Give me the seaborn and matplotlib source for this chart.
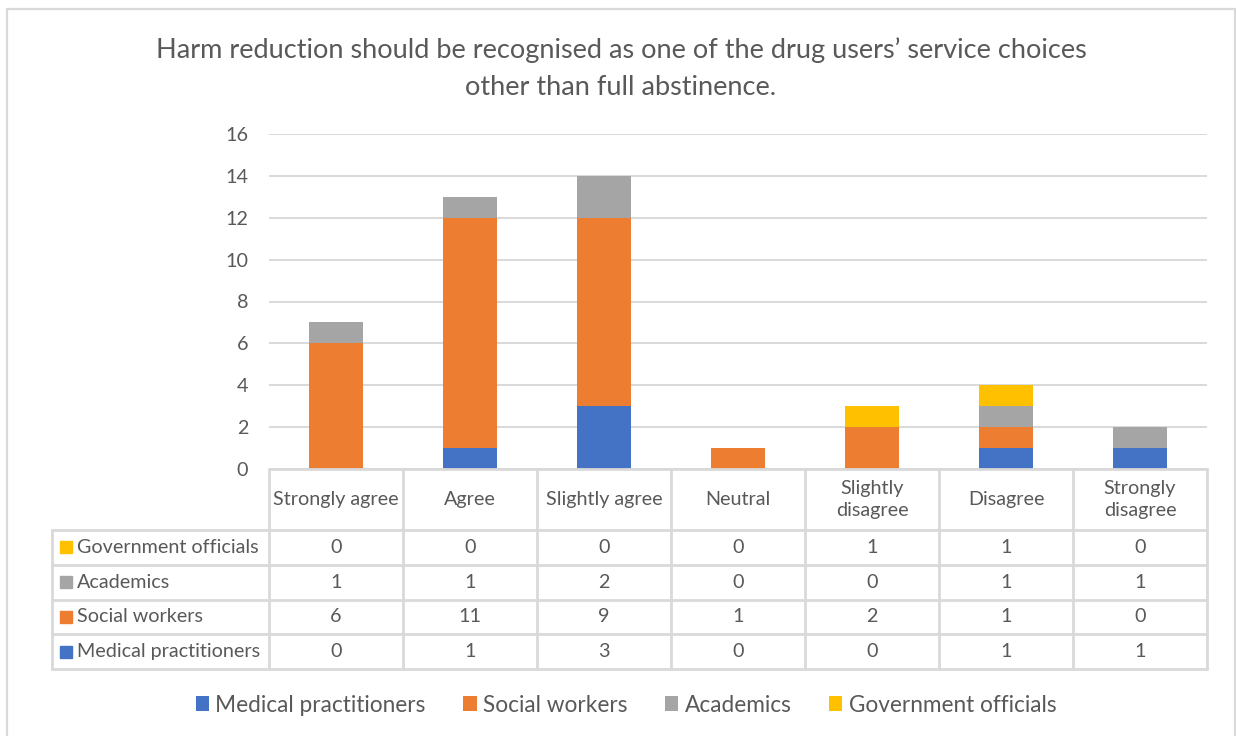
import matplotlib
matplotlib.use("Agg")
import matplotlib.pyplot as plt
import matplotlib.transforms as mtransforms
from matplotlib.lines import Line2D
from matplotlib.patches import Patch
import numpy as np
import pandas as pd
import seaborn as sns

# ---- data -------------------------------------------------------------
categories = ["Strongly agree", "Agree", "Slightly agree", "Neutral",
              "Slightly disagree", "Disagree", "Strongly disagree"]
category_labels = ["Strongly agree", "Agree", "Slightly agree", "Neutral",
                   "Slightly\ndisagree", "Disagree", "Strongly\ndisagree"]
medical = [0, 1, 3, 0, 0, 1, 1]
social = [6, 11, 9, 1, 2, 1, 0]
academics = [1, 1, 2, 0, 0, 1, 1]
government = [0, 0, 0, 0, 1, 1, 0]
series_names = ["Medical practitioners", "Social workers", "Academics",
                "Government officials"]
series_colors = ["#4472C4", "#ED7D31", "#A5A5A5", "#FFC000"]
y_ticks = [0, 2, 4, 6, 8, 10, 12, 14, 16]
title = ("Harm reduction should be recognised as one of the drug users\u2019 "
         "service choices\nother than full abstinence.")

# ---- style ------------------------------------------------------------
sns.set_theme(style="white")
FONT = ["Lato", "DejaVu Sans"]
plt.rcParams["font.family"] = FONT
TEXT = "#595959"
LINE = "#d9d9d9"
FS = 14.2

W, H = 1236, 736
fig = plt.figure(figsize=(W / 100, H / 100), dpi=100)
fig.patch.set_facecolor("white")

# plot area in pixels
px_l, px_r, px_t, px_b = 269, 1207, 134, 469
ax = fig.add_axes([px_l / W, 1 - px_b / H, (px_r - px_l) / W, (px_b - px_t) / H])

# ---- stacked bars (cumulative totals drawn from the top down) ----------
values = np.array([medical, social, academics, government], dtype=float)
cum = values.cumsum(axis=0)
df = pd.DataFrame({"category": categories})
for i in range(len(series_names) - 1, -1, -1):
    df["total"] = cum[i]
    sns.barplot(data=df, x="category", y="total", order=categories,
                color=series_colors[i], saturation=1, width=0.4,
                linewidth=0, ax=ax, zorder=3)

ax.set_ylim(0, 16)
ax.set_xlim(-0.5, len(categories) - 0.5)
ax.set_yticks(y_ticks)
ax.set_yticklabels([str(t) for t in y_ticks])
ax.tick_params(axis="y", length=0, pad=15, labelsize=FS, labelcolor=TEXT)
ax.tick_params(axis="x", length=0, labelbottom=False)
ax.set_xlabel("")
ax.set_ylabel("")
for s in ax.spines.values():
    s.set_visible(False)
ax.yaxis.grid(True, color=LINE, linewidth=1.4, zorder=0)
ax.xaxis.grid(False)
ax.set_axisbelow(True)

# ---- data table below the plot ----------------------------------------
trans = mtransforms.blended_transform_factory(ax.transData, ax.transAxes)
plot_h = px_b - px_t
unit = (px_r - px_l) / len(categories)
head_h = 61 / plot_h
row_h = 34.8 / plot_h
left_w = (px_l - 52) / unit
x0 = -0.5
x_left = x0 - left_w
n_rows = len(series_names)
y_bottom = -head_h - n_rows * row_h
lkw = dict(color=LINE, linewidth=2, transform=trans, clip_on=False, zorder=5)

ax.add_line(Line2D([x0, len(categories) - 0.5], [0, 0], **lkw))
for r in range(n_rows + 1):
    y = -head_h - r * row_h
    ax.add_line(Line2D([x_left, len(categories) - 0.5], [y, y], **lkw))
ax.add_line(Line2D([x_left, x_left], [-head_h, y_bottom], **lkw))
for k in range(len(categories) + 1):
    xk = x0 + k
    ax.add_line(Line2D([xk, xk], [0, y_bottom], **lkw))

tkw = dict(transform=trans, color=TEXT, fontsize=FS, clip_on=False,
           va="center")
for j, lab in enumerate(category_labels):
    ax.text(j, -head_h / 2, lab, ha="center", linespacing=1.4, **tkw)

table_order = [3, 2, 1, 0]  # government, academics, social, medical
for r, si in enumerate(table_order):
    yc = -head_h - (r + 0.5) * row_h
    ax.plot([x_left + 14 / unit], [yc], marker="s", markersize=8.5,
            color=series_colors[si], transform=trans, clip_on=False,
            linestyle="none", zorder=6)
    ax.text(x_left + 25 / unit, yc, series_names[si], ha="left", **tkw)
    for j in range(len(categories)):
        ax.text(j, yc, str(int(values[si][j])), ha="center", **tkw)

# ---- title ------------------------------------------------------------
fig.text(621 / W, 1 - 68.5 / H, title, ha="center", va="center",
         fontsize=19.5, color=TEXT, linespacing=1.6)

# ---- legend -----------------------------------------------------------
handles = [Patch(facecolor=c, edgecolor="none") for c in series_colors]
fig.legend(handles, series_names, loc="center", ncol=4,
           bbox_to_anchor=(626 / W, 1 - 705 / H), frameon=False,
           fontsize=16.3, labelcolor=TEXT, handlelength=0.58,
           handleheight=0.58, handletextpad=0.27, columnspacing=1.68)

# ---- chart frame ------------------------------------------------------
fkw = dict(color=LINE, linewidth=1.6, transform=fig.transFigure)
fig.add_artist(Line2D([7 / W, 7 / W], [0, 1 - 9 / H], **fkw))
fig.add_artist(Line2D([7 / W, 1235 / W], [1 - 9 / H, 1 - 9 / H], **fkw))
fig.add_artist(Line2D([1235 / W, 1235 / W], [0, 1 - 9 / H], **fkw))

fig.savefig("out.png", dpi=100, facecolor="white")
